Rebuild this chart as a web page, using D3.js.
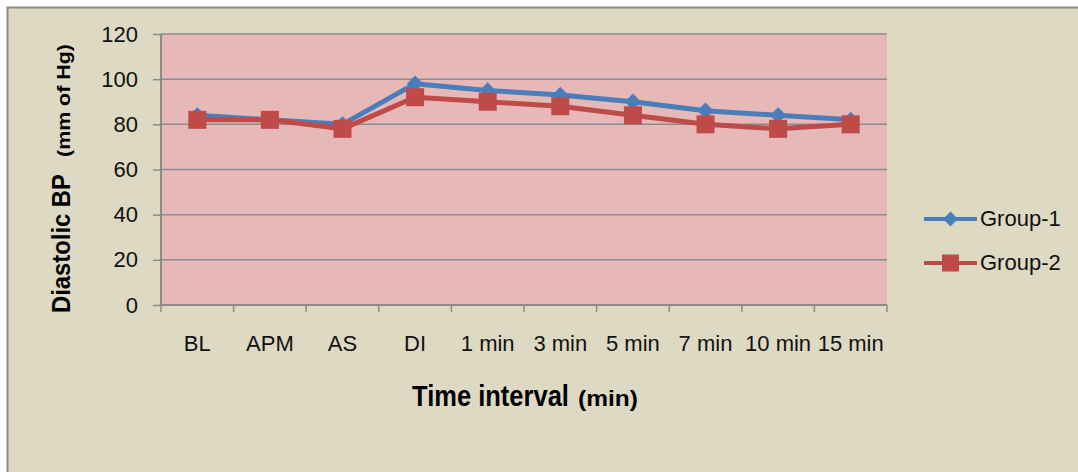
<!DOCTYPE html>
<html>
<head>
<meta charset="utf-8">
<script src="https://cdn.jsdelivr.net/npm/d3@7"></script>
<style>
  html, body { margin: 0; padding: 0; background: #ffffff; }
  svg { display: block; font-family: "Liberation Sans", Arial, sans-serif; }
</style>
</head>
<body>
<svg width="1078" height="472"></svg>
<script>
const categories = ['BL', 'APM', 'AS', 'DI', '1 min', '3 min', '5 min', '7 min', '10 min', '15 min'];
const group1 = [84, 82, 80, 98, 95, 93, 90, 86, 84, 82];
const group2 = [82, 82, 78, 92, 90, 88, 84, 80, 78, 80];
const yTicks = [0, 20, 40, 60, 80, 100, 120];
const seriesNames = ['Group-1', 'Group-2'];

const plot = {left: 161, top: 34, right: 887, bottom: 305};
const colors = ['#4a7ebb', '#be4b48'];

var svg = d3.select("svg");

// outer chart background (border runs off the right and bottom)
svg.append("rect")
   .attr("x", 7.5).attr("y", 7.5)
   .attr("width", 1100).attr("height", 500)
   .attr("fill", "#ddd9c3")
   .attr("stroke", "#8c8c8c").attr("stroke-width", 2);

svg.append("rect")
   .attr("x", plot.left).attr("y", plot.top)
   .attr("width", plot.right - plot.left).attr("height", plot.bottom - plot.top)
   .attr("fill", "#e6b9b8");

var x = d3.scaleBand().domain(categories).range([plot.left, plot.right]);
var y = d3.scaleLinear().domain([0, 120]).range([plot.bottom, plot.top]);

// gridlines
svg.append("g").selectAll("line")
   .data(yTicks.filter(d => d > 0))
   .enter().append("line")
   .attr("x1", plot.left).attr("x2", plot.right)
   .attr("y1", d => y(d)).attr("y2", d => y(d))
   .attr("stroke", "#8c8c8c").attr("stroke-width", 1.5);

// y axis
var yAxis = d3.axisLeft(y).tickValues(yTicks).tickSize(8).tickPadding(15);
svg.append("g")
   .attr("transform", "translate(" + plot.left + ",0)")
   .call(yAxis)
   .call(g => {
     g.select(".domain").attr("stroke", "#8c8c8c").attr("stroke-width", 2).attr("d", "M0," + plot.top + "V" + plot.bottom);
     g.selectAll(".tick line").attr("stroke", "#8c8c8c").attr("stroke-width", 1.5);
     g.selectAll(".tick text").attr("font-size", 22).attr("fill", "#111").attr("font-family", null);
   });

// x axis: ticks on band boundaries
svg.append("g")
   .attr("transform", "translate(0," + plot.bottom + ")")
   .call(g => {
     g.append("line").attr("x1", plot.left).attr("x2", plot.right)
      .attr("stroke", "#8c8c8c").attr("stroke-width", 2);
     var bounds = categories.map(c => x(c)).concat([plot.right]);
     g.selectAll(".bt").data(bounds).enter().append("line")
      .attr("x1", d => d).attr("x2", d => d)
      .attr("y1", 0).attr("y2", 7)
      .attr("stroke", "#8c8c8c").attr("stroke-width", 1.5);
     g.selectAll(".lbl").data(categories).enter().append("text")
      .attr("x", d => x(d) + x.bandwidth() / 2)
      .attr("y", 46)
      .attr("text-anchor", "middle")
      .attr("font-size", 22).attr("fill", "#111")
      .text(d => d);
   });

var cx = d => x(d) + x.bandwidth() / 2;
var line = d3.line().x(d => cx(d.cat)).y(d => y(d.v));

function seriesData(vals){
  return categories.map((c, i) => ({cat: c, v: vals[i]}));
}

// Group-1
var g1 = svg.append("g");
g1.append("path").datum(seriesData(group1))
  .attr("d", line).attr("fill", "none")
  .attr("stroke", colors[0]).attr("stroke-width", 5).attr("stroke-linejoin", "round");
g1.selectAll("path.m").data(seriesData(group1)).enter().append("path")
  .attr("class", "m")
  .attr("d", d3.symbol().type(d3.symbolDiamond2).size(170))
  .attr("transform", d => "translate(" + cx(d.cat) + "," + y(d.v) + ")")
  .attr("fill", colors[0]);

// Group-2
var g2 = svg.append("g");
g2.append("path").datum(seriesData(group2))
  .attr("d", line).attr("fill", "none")
  .attr("stroke", colors[1]).attr("stroke-width", 5).attr("stroke-linejoin", "round");
g2.selectAll("rect").data(seriesData(group2)).enter().append("rect")
  .attr("x", d => cx(d.cat) - 9).attr("y", d => y(d.v) - 9)
  .attr("width", 18).attr("height", 18)
  .attr("fill", colors[1]);

// axis titles: bold text squeezed horizontally to the reference's narrow face
function squeezed(parent, txt, size, x0, len){
  var g = parent.append("g");
  var t = g.append("text")
     .attr("font-size", size).attr("font-weight", "bold").attr("fill", "#000")
     .text(txt);
  var natural = t.node().getComputedTextLength();
  g.attr("transform", "translate(" + x0 + ",0) scale(" + (len / natural) + ",1)");
  return g;
}
var yt = svg.append("g").attr("transform", "translate(70,0) rotate(-90)");
squeezed(yt, "Diastolic BP", 25, -313, 139);
squeezed(yt, "(mm of Hg)", 18, -157, 113);

var xt = svg.append("g").attr("transform", "translate(0,406)");
squeezed(xt, "Time interval", 30, 412, 157);
squeezed(xt, "(min)", 22, 578, 60);

// legend
var legend = svg.append("g").selectAll("g")
   .data(seriesNames).enter().append("g")
   .attr("transform", (d, i) => "translate(924," + (219 + i * 44) + ")");
legend.append("line").attr("x1", 0).attr("x2", 53)
   .attr("stroke", (d, i) => colors[i]).attr("stroke-width", 4);
legend.each(function(d, i){
  var g = d3.select(this);
  if(i == 0){
    g.append("path").attr("d", d3.symbol().type(d3.symbolDiamond2).size(140))
     .attr("transform", "translate(26.5,0)").attr("fill", colors[0]);
  }else{
    g.append("rect").attr("x", 18).attr("y", -8.5).attr("width", 17).attr("height", 17).attr("fill", colors[1]);
  }
});
legend.append("text").attr("x", 56).attr("y", 7)
   .attr("font-size", 22).attr("fill", "#111")
   .text(d => d);
</script>
</body>
</html>
